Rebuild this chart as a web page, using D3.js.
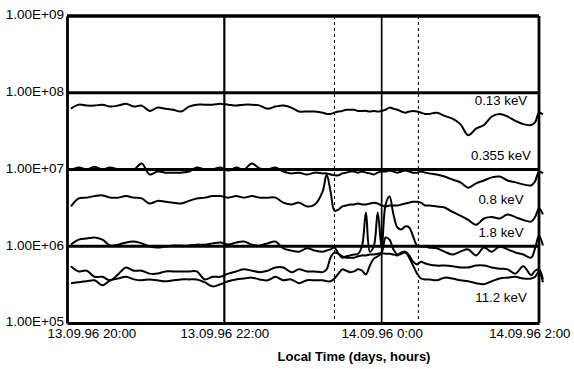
<!DOCTYPE html>
<html>
<head>
<meta charset="utf-8">
<script src="https://cdn.jsdelivr.net/npm/d3@7"></script>
<style>
body { margin: 0; background: #fff; }
text { font-family: "Liberation Sans", Arial, sans-serif; fill: #000; }
</style>
</head>
<body>
<script>
// sample times, hours after 13.09.96 20:00 (finer around the event)
var hours = [0.05,0.15,0.25,0.35,0.45,0.55,0.65,0.75,0.85,0.95,1.05,1.15,1.25,1.35,1.45,1.55,1.65,1.75,1.85,1.95,2.05,2.15,2.25,2.35,2.45,2.55,2.65,2.75,2.85,2.95,3.05,3.15,3.25,
  3.3,3.35,3.4,3.45,3.5,3.55,3.6,3.65,3.7,3.75,3.8,3.85,3.9,3.95,4.0,4.05,4.1,4.15,4.2,4.25,4.3,4.35,4.4,4.45,4.5,4.55,4.6,
  4.7,4.8,4.9,5.0,5.1,5.2,5.3,5.4,5.5,5.6,5.7,5.8,5.9,5.95,6.0,6.05]

var flux013 = [6.2e7,7.0e7,6.8e7,6.8e7,7.0e7,6.6e7,6.8e7,7.2e7,6.6e7,6.8e7,5.8e7,6.4e7,6.2e7,6.0e7,5.7e7,6.6e7,7.0e7,7.0e7,7.0e7,7.2e7,7.0e7,6.8e7,7.0e7,7.0e7,6.8e7,6.2e7,6.6e7,6.8e7,6.4e7,5.7e7,5.7e7,5.7e7,5.5e7,
  5.3e7,5.3e7,5.5e7,5.7e7,5.8e7,6.0e7,6.0e7,6.0e7,5.8e7,5.8e7,5.8e7,5.7e7,5.8e7,5.7e7,5.8e7,6.0e7,6.4e7,6.2e7,6.0e7,5.7e7,5.5e7,5.7e7,5.8e7,5.7e7,5.5e7,5.3e7,5.3e7,
  5.5e7,5.0e7,4.6e7,3.9e7,2.8e7,3.4e7,3.8e7,4.9e7,5.3e7,4.9e7,4.3e7,3.9e7,3.8e7,4.1e7,5.5e7,5.2e7]

var flux0355 = [9.7e6,10.6e6,10.0e6,10.9e6,10.0e6,10.6e6,10.0e6,10.0e6,10.0e6,12.0e6,8.6e6,9.4e6,9.1e6,9.1e6,9.1e6,9.4e6,10.6e6,10.0e6,10.0e6,10.6e6,9.7e6,10.6e6,10.0e6,12.0e6,10.3e6,10.0e6,10.6e6,9.4e6,8.9e6,9.1e6,8.6e6,9.1e6,8.9e6,
  8.9e6,8.6e6,8.4e6,8.4e6,8.9e6,9.1e6,9.4e6,9.4e6,9.1e6,9.4e6,9.1e6,8.9e6,8.6e6,9.1e6,9.4e6,9.4e6,9.7e6,9.4e6,9.1e6,9.4e6,9.7e6,9.4e6,9.1e6,9.1e6,9.4e6,9.1e6,8.9e6,
  8.6e6,8.1e6,7.4e6,6.8e6,5.8e6,6.6e6,7.2e6,7.9e6,8.1e6,7.2e6,6.8e6,6.4e6,6.2e6,7.0e6,9.4e6,8.9e6]

var flux08 = [3.3e6,4.2e6,4.3e6,4.5e6,4.6e6,4.3e6,4.3e6,4.5e6,4.3e6,4.2e6,3.6e6,3.9e6,3.8e6,3.7e6,3.6e6,3.9e6,4.2e6,4.3e6,4.5e6,4.5e6,4.3e6,4.5e6,4.3e6,4.5e6,4.3e6,4.3e6,4.3e6,3.7e6,3.5e6,3.7e6,3.3e6,3.5e6,5.2e6,
  8.6e6,5.2e6,2.9e6,3.0e6,3.3e6,3.4e6,3.5e6,3.5e6,3.6e6,3.5e6,3.5e6,3.6e6,3.7e6,3.6e6,3.4e6,3.3e6,3.4e6,3.4e6,3.4e6,3.5e6,3.6e6,3.7e6,3.8e6,3.8e6,3.7e6,3.4e6,3.4e6,
  3.3e6,3.2e6,2.8e6,2.5e6,2.2e6,1.9e6,2.3e6,2.4e6,2.3e6,2.6e6,2.4e6,2.2e6,2.1e6,2.4e6,3.1e6,2.6e6]

var flux18 = [1.05e6,1.22e6,1.26e6,1.30e6,1.22e6,1.02e6,1.05e6,1.12e6,1.15e6,1.09e6,0.99e6,0.96e6,0.99e6,1.02e6,1.02e6,1.02e6,1.05e6,1.05e6,1.09e6,1.12e6,1.05e6,1.12e6,1.15e6,1.05e6,1.02e6,1.09e6,1.15e6,0.94e6,0.88e6,0.85e6,0.94e6,0.88e6,0.85e6,
  0.88e6,0.91e6,0.96e6,0.80e6,0.71e6,0.74e6,0.76e6,0.78e6,0.80e6,1.0e6,2.75e6,0.85e6,1.0e6,2.75e6,0.95e6,3.50e6,4.45e6,2.59e6,1.76e6,1.65e6,1.81e6,1.76e6,1.34e6,1.02e6,0.99e6,0.99e6,0.96e6,
  0.94e6,0.85e6,0.78e6,0.85e6,0.91e6,0.76e6,0.96e6,0.85e6,0.99e6,0.91e6,0.83e6,0.78e6,0.71e6,0.94e6,1.38e6,1.02e6]

var flux45 = [5.5e5,4.7e5,4.8e5,4.0e5,4.0e5,3.6e5,4.3e5,5.3e5,4.8e5,4.8e5,4.4e5,4.4e5,4.7e5,4.7e5,4.7e5,4.7e5,4.7e5,3.7e5,4.0e5,4.0e5,4.4e5,4.7e5,5.0e5,4.8e5,4.6e5,4.8e5,5.3e5,5.3e5,4.6e5,5.0e5,4.7e5,4.7e5,4.6e5,
  5.0e5,7.1e5,8.3e5,8.0e5,7.4e5,7.1e5,7.1e5,7.1e5,7.4e5,7.6e5,7.6e5,7.8e5,7.8e5,8.0e5,8.3e5,13.0e5,12.2e5,9.1e5,7.8e5,8.3e5,8.5e5,7.6e5,6.3e5,5.8e5,6.3e5,6.0e5,5.8e5,
  5.6e5,5.6e5,5.5e5,5.3e5,5.3e5,5.6e5,5.6e5,5.3e5,5.1e5,5.0e5,4.4e5,5.5e5,4.2e5,4.8e5,5.0e5,3.7e5]

var flux112 = [3.3e5,3.4e5,3.5e5,3.6e5,3.1e5,3.6e5,3.8e5,4.0e5,3.7e5,3.6e5,3.7e5,3.6e5,3.5e5,3.6e5,3.7e5,3.7e5,3.7e5,3.4e5,3.0e5,3.2e5,3.5e5,3.7e5,3.8e5,3.9e5,3.7e5,3.6e5,4.0e5,3.6e5,3.7e5,3.3e5,3.6e5,3.6e5,3.6e5,
  3.5e5,3.5e5,3.8e5,4.4e5,5.0e5,4.8e5,4.6e5,4.7e5,5.0e5,4.8e5,4.3e5,5.6e5,6.9e5,7.4e5,8.0e5,8.0e5,8.0e5,7.8e5,7.6e5,8.0e5,8.3e5,7.1e5,5.6e5,4.4e5,3.8e5,3.7e5,3.7e5,
  3.6e5,3.9e5,3.8e5,3.6e5,3.5e5,3.3e5,3.2e5,3.5e5,3.8e5,3.9e5,4.0e5,3.8e5,3.8e5,4.0e5,4.7e5,3.4e5]

var seriesNames = ["0.13 keV", "0.355 keV", "0.8 keV", "1.8 keV", "", "11.2 keV"]
var seriesValues = [flux013, flux0355, flux08, flux18, flux45, flux112]

var xTickLabels = ["13.09.96 20:00", "13.09.96 22:00", "14.09.96 0:00", "14.09.96 2:00"]
var markTimes = ["13.09.96 23:24", "14.09.96 0:28"]
var yTicks = [1e5, 1e6, 1e7, 1e8, 1e9]

var screen = {width: 574, height: 369}
var margins = {top: 16, bottom: 46, left: 67, right: 35}
var width = screen.width - margins.left - margins.right
var height = screen.height - margins.top - margins.bottom

var parseTime = d3.timeParse("%d.%m.%y %H:%M")
var t0 = parseTime(xTickLabels[0])
var tEnd = parseTime(xTickLabels[xTickLabels.length - 1])

var xScale = d3.scaleTime()
    .domain([t0, tEnd])
    .range([margins.left, margins.left + width])

var yScale = d3.scaleLog()
    .domain([1e5, 1e9])
    .range([margins.top + height, margins.top])

var svg = d3.select("body")
    .append("svg")
    .attr("width", screen.width)
    .attr("height", screen.height)

svg.append("rect")
    .attr("width", screen.width)
    .attr("height", screen.height)
    .attr("fill", "#fff")

// horizontal grid at each decade
svg.append("g")
    .selectAll("line")
    .data(yTicks.slice(1))
    .enter()
    .append("line")
    .attr("x1", margins.left)
    .attr("x2", margins.left + width)
    .attr("y1", function(d) { return yScale(d) })
    .attr("y2", function(d) { return yScale(d) })
    .attr("stroke", "#000")
    .attr("stroke-width", 2.8)

// vertical grid at the inner time ticks
var innerTicks = xTickLabels.slice(1, -1).map(parseTime)
svg.append("g")
    .selectAll("line")
    .data(innerTicks)
    .enter()
    .append("line")
    .attr("x1", function(d) { return xScale(d) })
    .attr("x2", function(d) { return xScale(d) })
    .attr("y1", margins.top)
    .attr("y2", margins.top + height)
    .attr("stroke", "#000")
    .attr("stroke-width", function(d, i) { return i == 0 ? 2.2 : 1.7 })

// dashed event markers
svg.append("g")
    .selectAll("line")
    .data(markTimes.map(parseTime))
    .enter()
    .append("line")
    .attr("x1", function(d) { return xScale(d) })
    .attr("x2", function(d) { return xScale(d) })
    .attr("y1", margins.top)
    .attr("y2", margins.top + height)
    .attr("stroke", "#000")
    .attr("stroke-width", 1)
    .attr("stroke-dasharray", "3,3")

// flux lines
var line = d3.line()
    .x(function(d) { return xScale(d.t) })
    .y(function(d) { return yScale(d.v) })
    .curve(d3.curveCatmullRom.alpha(0.5))

seriesValues.forEach(function(vals) {
    var pts = vals.map(function(v, i) {
        return {t: new Date(t0.getTime() + hours[i] * 3600000), v: v}
    })
    svg.append("path")
        .datum(pts)
        .attr("d", line)
        .attr("fill", "none")
        .attr("stroke", "#000")
        .attr("stroke-width", 2)
        .attr("stroke-linejoin", "round")
})

// frame
svg.append("line") // top
    .attr("x1", margins.left).attr("x2", margins.left + width)
    .attr("y1", margins.top).attr("y2", margins.top)
    .attr("stroke", "#000").attr("stroke-width", 2.8)
svg.append("line") // right
    .attr("x1", margins.left + width).attr("x2", margins.left + width)
    .attr("y1", margins.top).attr("y2", margins.top + height)
    .attr("stroke", "#000").attr("stroke-width", 2.8)

// y axis
var yAxis = d3.axisLeft(yScale)
    .tickValues(yTicks)
    .tickSize(0)
    .tickPadding(3)
    .tickFormat(function(d) {
        var e = Math.round(Math.log10(d))
        return "1.00E+" + (e < 10 ? "0" : "") + e
    })

var gy = svg.append("g")
    .attr("transform", "translate(" + margins.left + ",0)")
    .call(yAxis)
gy.select(".domain").attr("stroke", "#000").attr("stroke-width", 2.8)
gy.selectAll("text")
    .attr("dy", "0.22em")
    .style("font-size", "13.5px")
    .style("font-family", "'Liberation Sans', Arial, sans-serif")
    .attr("fill", "#000")

// x axis
var xAxis = d3.axisBottom(xScale)
    .tickValues(xTickLabels.map(parseTime))
    .tickSize(0)
    .tickPadding(6)
    .tickFormat(d3.timeFormat("%d.%m.%y %-H:%M"))

var gx = svg.append("g")
    .attr("transform", "translate(0," + (margins.top + height) + ")")
    .call(xAxis)
gx.select(".domain").attr("stroke", "#000").attr("stroke-width", 3)
gx.selectAll("text")
    .style("font-size", "13.3px")
    .style("font-family", "'Liberation Sans', Arial, sans-serif")
    .attr("fill", "#000")
    .each(function(d) {
        // keep the edge labels inside the picture like the original
        var w = this.getComputedTextLength()
        var cx = xScale(d)
        var shift = 0
        if (cx - w / 2 < 47) shift = 47 - (cx - w / 2)
        if (cx + w / 2 > 570) shift = 570 - (cx + w / 2)
        d3.select(this).attr("x", shift)
    })

svg.append("text")
    .attr("x", 354)
    .attr("y", 361)
    .style("text-anchor", "middle")
    .style("font-size", "13px")
    .style("font-weight", "bold")
    .text("Local Time (days, hours)")

// series labels
var labelBaselines = [105, 160, 204, 237, 0, 302]
seriesNames.forEach(function(name, i) {
    if (!name) return
    svg.append("text")
        .attr("x", 501)
        .attr("y", labelBaselines[i])
        .style("text-anchor", "middle")
        .style("font-size", "13.3px")
        .text(name)
})
</script>
</body>
</html>
